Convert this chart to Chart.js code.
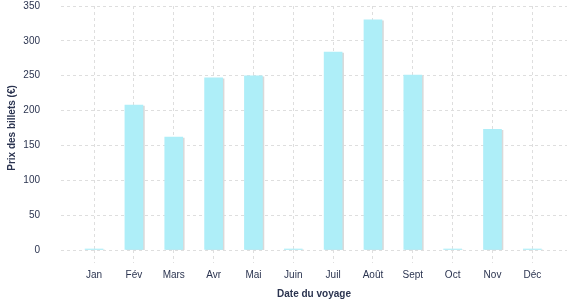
<!DOCTYPE html>
<html>
<head>
<meta charset="utf-8">
<script src="https://cdn.jsdelivr.net/npm/chart.js@4"></script>
<style>
  html, body { margin: 0; padding: 0; background: #fff; }
  #wrap { width: 577px; height: 300px; }
</style>
</head>
<body>
<div id="wrap"><canvas id="grafico"></canvas></div>
<script>
// mois et prix moyens
var mois = ['Jan', 'Fév', 'Mars', 'Avr', 'Mai', 'Juin', 'Juil', 'Août', 'Sept', 'Oct', 'Nov', 'Déc'];
var prix = [0, 208, 162, 247, 250, 0, 284, 330, 251, 0, 173, 0];
var yTicks = [0, 50, 100, 150, 200, 250, 300, 350];

var texte = '#2b3450';
var grille = '#dedede';

// ombre grise legere a droite des barres
const ombreBarres = {
    id: 'ombreBarres',
    beforeDatasetDraw(chart) {
        const ctx = chart.ctx;
        ctx.save();
        ctx.shadowColor = '#d9d9d9';
        ctx.shadowOffsetX = 1.5;
        ctx.shadowOffsetY = 1;
        ctx.shadowBlur = 0;
    },
    afterDatasetDraw(chart) {
        chart.ctx.restore();
    }
};

// axe x lineaire pour garder la marge des deux cotes
var points = mois.map(function (m, i) { return { x: i, y: prix[i] }; });

new Chart(document.getElementById('grafico'), {
    type: 'bar',
    data: {
        datasets: [{
            data: points,
            backgroundColor: '#aeeef8',
            barThickness: 18,
            minBarLength: 1
        }]
    },
    plugins: [ombreBarres],
    options: {
        responsive: true,
        maintainAspectRatio: false,
        animation: false,
        layout: { padding: { top: 6, right: 10, left: 0, bottom: 0 } },
        plugins: {
            legend: { display: false },
            tooltip: { enabled: false }
        },
        scales: {
            x: {
                type: 'linear',
                offset: false,
                min: -0.83,
                max: mois.length - 1 + 0.87,
                afterBuildTicks: function (scale) {
                    scale.ticks = mois.map(function (m, i) { return { value: i }; });
                },
                afterFit: function (scale) { scale.height = 50; },
                border: { display: false, dash: [3, 3] },
                grid: {
                    offset: false,
                    color: grille,
                    tickBorderDash: [3, 3],
                    tickColor: grille,
                    tickLength: 13
                },
                ticks: {
                    color: texte,
                    padding: 6,
                    maxRotation: 0,
                    autoSkip: false,
                    callback: function (v) { return mois[v]; },
                    font: { family: 'Liberation Sans', size: 10 }
                },
                title: {
                    display: true,
                    text: 'Date du voyage',
                    color: texte,
                    padding: { top: 3, bottom: 0 },
                    font: { family: 'Liberation Sans', size: 10, weight: 'bold' }
                }
            },
            y: {
                min: 0,
                max: 350,
                afterBuildTicks: function (scale) {
                    scale.ticks = yTicks.map(function (v) { return { value: v }; });
                },
                afterFit: function (scale) {
                    scale.width = 61;
                    scale.paddingTop = 0;
                },
                border: { display: false, dash: [3, 3] },
                grid: {
                    color: grille,
                    drawTicks: false
                },
                ticks: {
                    color: texte,
                    padding: 21,
                    font: { family: 'Liberation Sans', size: 10 }
                },
                title: {
                    display: true,
                    text: 'Prix des billets (€)',
                    color: texte,
                    padding: { top: 6, bottom: 4 },
                    font: { family: 'Liberation Sans', size: 10, weight: 'bold' }
                }
            }
        }
    }
});
</script>
</body>
</html>
